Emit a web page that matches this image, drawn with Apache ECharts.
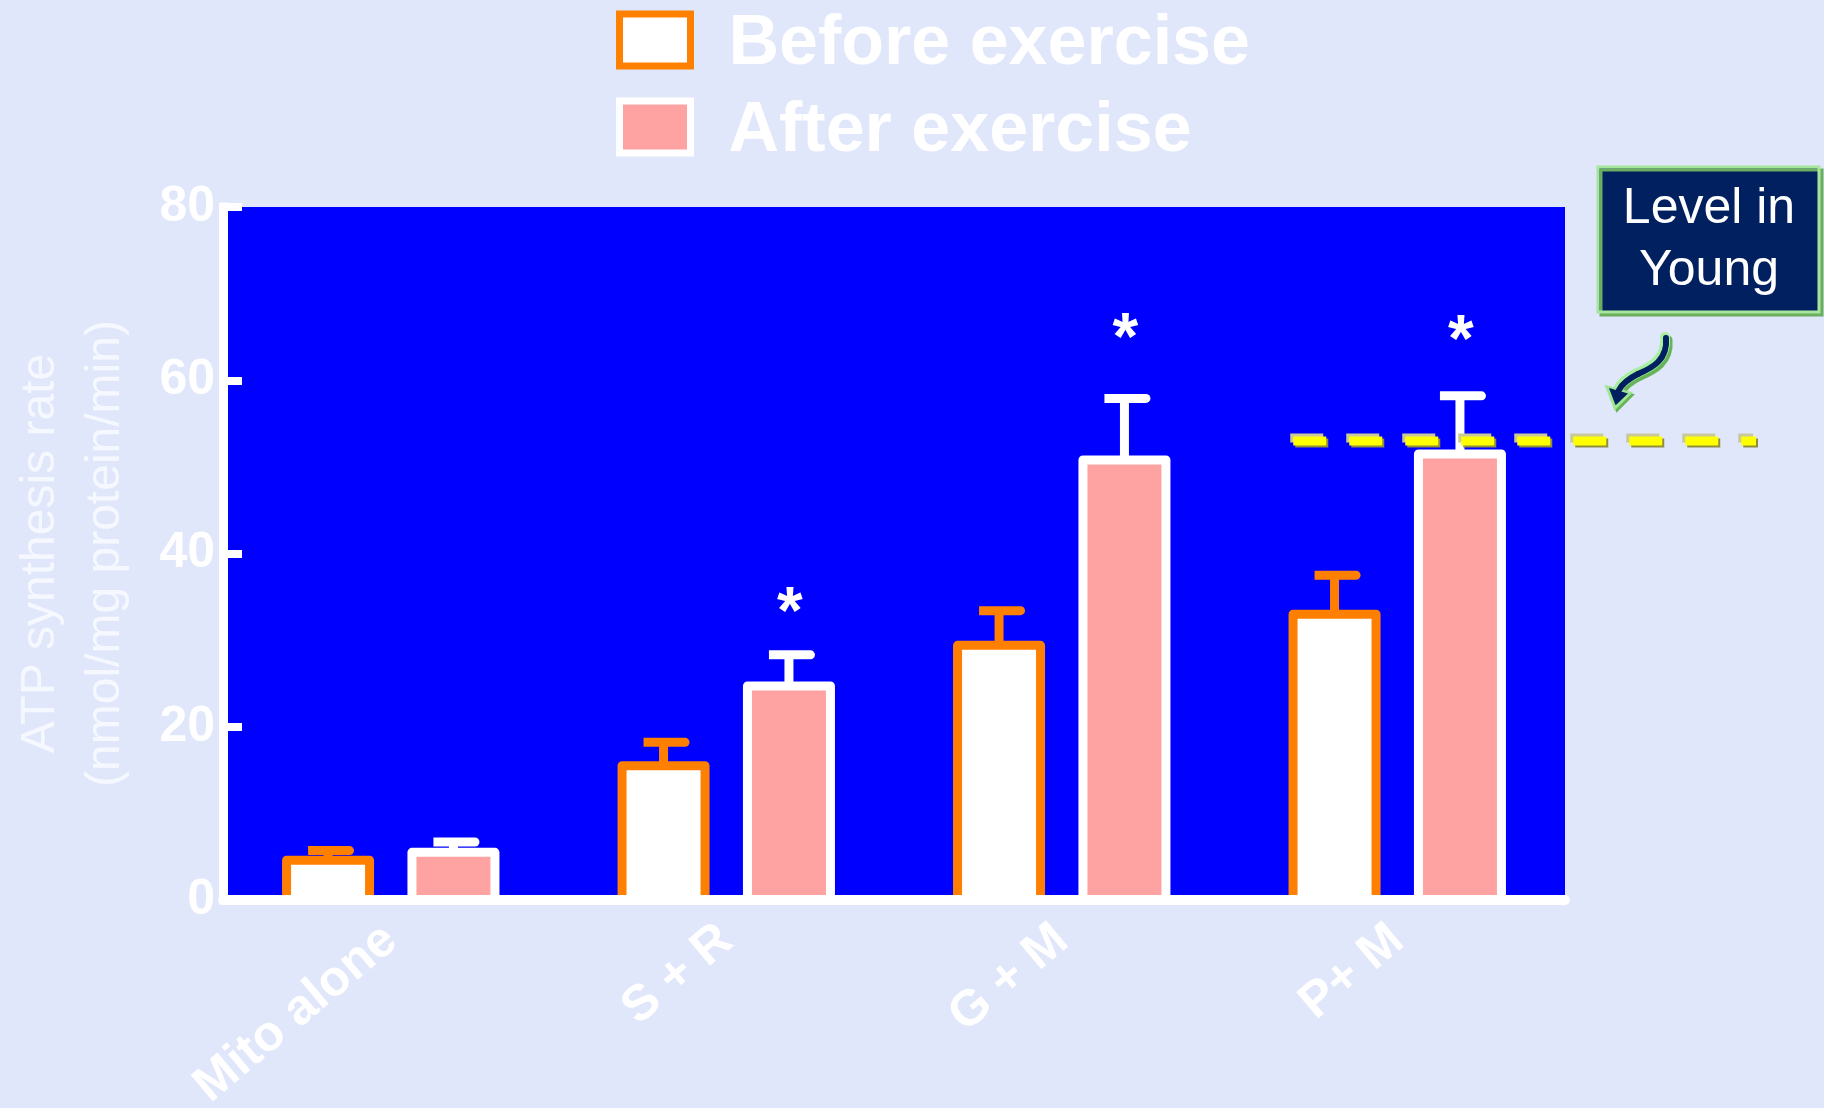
<!DOCTYPE html>
<html>
<head>
<meta charset="utf-8">
<script src="https://cdn.jsdelivr.net/npm/echarts@6/dist/echarts.min.js"></script>
<style>
  html, body { margin: 0; padding: 0; background: #e1e7fb; }
  #chart { width: 1824px; height: 1108px; }
</style>
</head>
<body>
<div id="chart"></div>
<script>
// ATP synthesis rate per substrate, before / after exercise (mean and upper error)
const categories = ['Mito alone', 'S + R', 'G + M', 'P+ M'];
const beforeMean = [4.6, 15.5, 29.4, 33.0];
const beforeUpper = [5.7, 18.2, 33.4, 37.5];
const afterMean = [5.5, 24.7, 50.8, 51.5];
const afterUpper = [6.7, 28.3, 57.9, 58.2];
const significance = ['', '*', '*', '*'];
const starLevel = [null, 34.6, 66.3, 66.0];
const youngLevel = 53;
const yTicks = [0, 20, 40, 60, 80];
const seriesNames = ['Before exercise', 'After exercise'];

const FONT = '"Liberation Sans", Arial, Helvetica, sans-serif';
const ORANGE = '#ff8000';
const PINK = '#ffa2a2';
const NAVY = '#002060';
const BAR_W = 83;
const BAR_GAP = 42.4;
const BAR_OFFSET = (BAR_W + BAR_GAP) / 2;

const chart = echarts.init(document.getElementById('chart'), null, { renderer: 'canvas', width: 1824, height: 1108 });

// outlined bar, stroke centred on the bar edge
function barSeries(name, means, fill, stroke, side) {
  return {
    type: 'custom',
    name: name,
    z: 2,
    silent: true,
    itemStyle: { color: fill, borderColor: stroke },
    data: means.map((m, i) => [i, m]),
    renderItem(params, api) {
      const top = api.coord([api.value(0), api.value(1)]);
      const base = api.coord([api.value(0), 0]);
      return {
        type: 'rect',
        shape: { x: top[0] + side * BAR_OFFSET - BAR_W / 2, y: top[1], width: BAR_W, height: base[1] - top[1] },
        style: { fill: fill, stroke: stroke, lineWidth: 9, lineJoin: 'round' }
      };
    }
  };
}

// whisker: stem from the bar top up to a cap at the upper value
function errorSeries(means, uppers, color, side) {
  return {
    type: 'custom',
    name: 'err' + side,
    z: 3,
    silent: true,
    data: means.map((m, i) => [i, m, uppers[i]]),
    renderItem(params, api) {
      const base = api.coord([api.value(0), api.value(1)]);
      const top = api.coord([api.value(0), api.value(2)]);
      const x = base[0] + side * BAR_OFFSET;
      return {
        type: 'group',
        children: [
          { type: 'rect', shape: { x: x - 4.5, y: top[1], width: 9, height: base[1] - top[1] }, style: { fill: color } },
          { type: 'rect', shape: { x: x - 20, y: top[1] - 4.5, width: 46, height: 9, r: [0, 4.5, 4.5, 0] }, style: { fill: color } }
        ]
      };
    }
  };
}

const starData = categories.map((c, i) => significance[i] ? [i, starLevel[i]] : null).filter(Boolean);

const option = {
  backgroundColor: '#e1e7fb',
  animation: false,
  grid: {
    left: 223, right: 259, top: 207, bottom: 208,
    show: true, backgroundColor: '#0000ff', borderWidth: 0,
    containLabel: false, outerBoundsMode: 'none'
  },
  legend: {
    orient: 'vertical',
    left: 616, top: 5,
    padding: 0,
    itemWidth: 71, itemHeight: 52, itemGap: 12,
    icon: 'rect',
    selectedMode: false,
    formatter: '{s|}{t|{name}}',
    textStyle: {
      color: '#ffffff', fontFamily: FONT, fontWeight: 'bold', fontSize: 70,
      rich: {
        s: { width: 33, height: 80 },
        t: { color: '#ffffff', fontFamily: FONT, fontWeight: 'bold', fontSize: 70, lineHeight: 70, verticalAlign: 'bottom' }
      }
    },
    data: [
      { name: seriesNames[0], itemStyle: { color: '#ffffff', borderColor: ORANGE, borderWidth: 7 } },
      { name: seriesNames[1], itemStyle: { color: PINK, borderColor: '#ffffff', borderWidth: 7 } }
    ]
  },
  xAxis: {
    type: 'category',
    data: categories,
    z: 5,
    axisLine: { show: true, lineStyle: { color: '#ffffff', width: 10 } },
    axisTick: { show: false },
    axisLabel: {
      interval: 0, rotate: 40, margin: 34,
      color: '#ffffff', fontFamily: FONT, fontWeight: 'bold', fontSize: 50
    },
    splitLine: { show: false }
  },
  yAxis: {
    type: 'value',
    min: yTicks[0], max: yTicks[yTicks.length - 1], interval: yTicks[1] - yTicks[0],
    name: 'ATP synthesis rate\n(nmol/mg protein/min)',
    nameLocation: 'middle',
    nameRotate: 90,
    nameGap: 85,
    nameTextStyle: { color: '#f6f8ff', fontFamily: FONT, fontSize: 48, lineHeight: 65 },
    axisLine: { show: true, lineStyle: { color: '#ffffff', width: 9, cap: 'square' } },
    axisTick: { show: true, inside: true, length: 19, lineStyle: { color: '#ffffff', width: 8 } },
    axisLabel: { margin: 8, color: '#ffffff', fontFamily: FONT, fontWeight: 'bold', fontSize: 50 },
    splitLine: { show: false }
  },
  series: [
    barSeries(seriesNames[0], beforeMean, '#ffffff', ORANGE, -1),
    barSeries(seriesNames[1], afterMean, PINK, '#ffffff', 1),
    errorSeries(beforeMean, beforeUpper, ORANGE, -1),
    errorSeries(afterMean, afterUpper, '#ffffff', 1),
    {
      type: 'custom',
      name: 'stars',
      z: 4,
      silent: true,
      data: starData,
      renderItem(params, api) {
        const p = api.coord([api.value(0), api.value(1)]);
        return {
          type: 'text',
          x: p[0] + BAR_OFFSET + 1,
          y: p[1] + 15,
          style: {
            text: significance[api.value(0)],
            font: 'bold 66px ' + FONT,
            fill: '#ffffff', align: 'center', verticalAlign: 'middle'
          }
        };
      }
    }
  ]
};

chart.setOption(option);

// reference level for young subjects, with the callout box and arrow
const yLevel = chart.convertToPixel({ yAxisIndex: 0 }, youngLevel);
const xStart = chart.convertToPixel({ xAxisIndex: 0 }, 3) - 104;
const xEnd = 1756;
const dash = [33, 23];

function curve(dx, dy, color, width) {
  return [
    { type: 'bezierCurve', z: 10, silent: true, x: dx, y: dy,
      shape: { x1: 1666, y1: 338, cpx1: 1668, cpy1: 360, cpx2: 1652, cpy2: 368, x2: 1638, y2: 374 },
      style: { stroke: color, lineWidth: width, fill: null, lineCap: 'round' } },
    { type: 'bezierCurve', z: 10, silent: true, x: dx, y: dy,
      shape: { x1: 1638, y1: 374, cpx1: 1628, cpy1: 379, cpx2: 1622, cpy2: 384, x2: 1619, y2: 390 },
      style: { stroke: color, lineWidth: width, fill: null, lineCap: 'round' } }
  ];
}

const arrow = [].concat(
  curve(2, 2, '#66b458', 9),
  curve(-1, -1, '#a8f0a0', 10),
  [{ type: 'polygon', z: 10, silent: true, shape: { points: [[1607, 387], [1630, 393], [1615, 408]] },
     style: { fill: NAVY, stroke: '#9ee696', lineWidth: 3, shadowColor: '#66b458', shadowOffsetX: 2, shadowOffsetY: 2, shadowBlur: 0 } }],
  curve(0, 0, NAVY, 6).map(e => Object.assign(e, { z: 11 })),
  [{ type: 'polygon', z: 11, silent: true, shape: { points: [[1609, 388], [1628, 393.5], [1615.5, 405]] },
     style: { fill: NAVY } }]
);

chart.setOption({
  graphic: [
    { type: 'line', z: 10, silent: true, shape: { x1: xStart - 3, y1: yLevel - 3, x2: xEnd - 3, y2: yLevel - 3 },
      style: { stroke: '#c9c99a', lineWidth: 9, lineDash: dash } },
    { type: 'line', z: 10, silent: true, shape: { x1: xStart + 2, y1: yLevel + 2, x2: xEnd + 2, y2: yLevel + 2 },
      style: { stroke: '#8e8e3c', lineWidth: 9, lineDash: dash } },
    { type: 'line', z: 11, silent: true, shape: { x1: xStart, y1: yLevel, x2: xEnd, y2: yLevel },
      style: { stroke: '#ffff00', lineWidth: 9, lineDash: dash } },

    { type: 'rect', z: 10, silent: true, shape: { x: 1598, y: 167, width: 221, height: 145 },
      style: { fill: NAVY, stroke: '#a6e69c', lineWidth: 3, shadowColor: '#6aae5e', shadowOffsetX: 3, shadowOffsetY: 3, shadowBlur: 0 } },
    { type: 'text', z: 11, silent: true, x: 1709, y: 240,
      style: { text: 'Level in\nYoung', font: '50px ' + FONT, lineHeight: 62, fill: '#ffffff', align: 'center', verticalAlign: 'middle' } }
  ].concat(arrow)
});
</script>
</body>
</html>
